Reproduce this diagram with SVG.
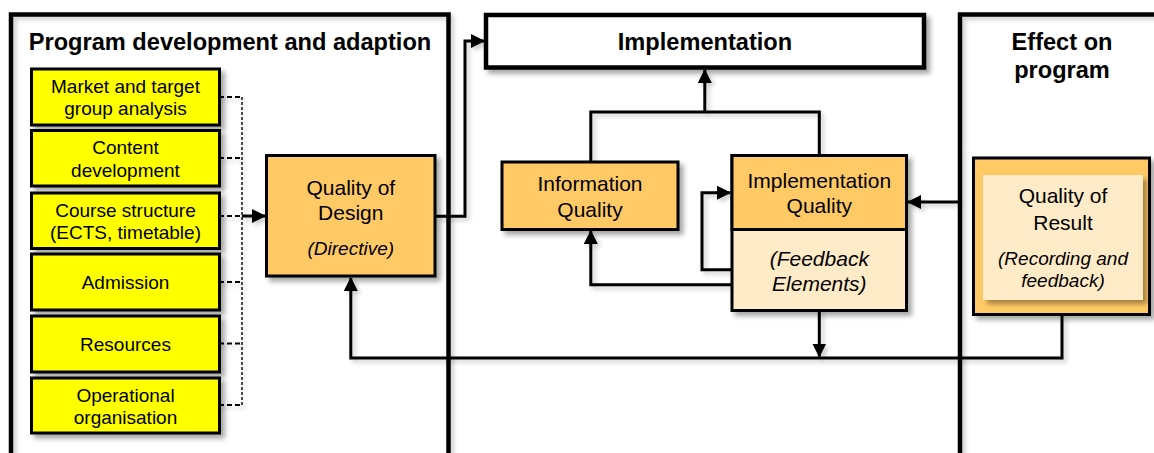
<svg xmlns="http://www.w3.org/2000/svg" width="1154" height="453" viewBox="0 0 1154 453">
<defs>
<style>
text{font-family:"Liberation Sans",Arial,sans-serif;fill:#000;text-anchor:middle}
.h{font-weight:bold;font-size:23.6px}
.t{font-size:21px}
.s{font-size:19px}
.i{font-style:italic}
.frame{fill:none;stroke:#000;stroke-width:4.5}
.yel{fill:#FFFF00;stroke:#000;stroke-width:3}
.org{fill:#FFC966;stroke:#000;stroke-width:3}
.lt{fill:#FFEBC7;stroke:#000;stroke-width:3}
.c{fill:none;stroke:#000;stroke-width:3}
.d{fill:none;stroke:#000;stroke-width:2;stroke-dasharray:5 3}
.dv{fill:none;stroke:#000;stroke-width:1.4;stroke-dasharray:3 2}
</style>
<filter id="sh" x="-10%" y="-10%" width="130%" height="130%">
<feDropShadow dx="4" dy="4" stdDeviation="2.5" flood-color="#000" flood-opacity="0.35"/>
</filter>
<filter id="shl" x="-10%" y="-10%" width="130%" height="130%">
<feDropShadow dx="3" dy="3" stdDeviation="2" flood-color="#000" flood-opacity="0.2"/>
</filter>
<marker id="ar" viewBox="0 0 14 14" refX="13" refY="7" markerWidth="14" markerHeight="14" markerUnits="userSpaceOnUse" orient="auto">
<path d="M0,0 L14,7 L0,14 Z" fill="#000"/>
</marker>
</defs>

<g id="frames" filter="url(#shl)">
<path class="frame" d="M11,460 V14.5 H448.5 V460"/>
<path class="frame" d="M960,460 V14.5 H1160"/>
</g>

<text class="h" x="230" y="50">Program development and adaption</text>
<text class="h" x="1062" y="50">Effect on</text>
<text class="h" x="1062" y="78">program</text>

<g id="connectors" filter="url(#shl)">
<path class="d" d="M219,97 H242 M219,158 H242 M219,216 H242 M219,282 H242 M219,343.5 H242 M219,405 H242"/>
<path class="dv" d="M242,97 V405"/>
<path class="c" d="M242,216 H265" marker-end="url(#ar)"/>
<path class="c" d="M435,216.3 H465 V41 H484" marker-end="url(#ar)"/>
<path class="c" d="M1062,315 V358 H350.8 V278" marker-end="url(#ar)"/>
<path class="c" d="M590.8,162 V112 H819.3 V155.5"/>
<path class="c" d="M704.8,112 V70" marker-end="url(#ar)"/>
<path class="c" d="M732,284.7 H590.8 V231" marker-end="url(#ar)"/>
<path class="c" d="M732,269.7 H702 V192.7 H730" marker-end="url(#ar)"/>
<path class="c" d="M819.3,310.5 V356.5" marker-end="url(#ar)"/>
<path class="c" d="M960,202 H908" marker-end="url(#ar)"/>
</g>

<g id="implementation">
<rect x="486" y="15" width="438" height="52.5" fill="#fff" stroke="#000" stroke-width="4.5" filter="url(#sh)"/>
<text class="h" x="705" y="50">Implementation</text>
</g>

<g id="market">
<rect class="yel" x="31.5" y="69" width="188" height="56" filter="url(#sh)"/>
<text class="s" x="125.5" y="93">Market and target</text>
<text class="s" x="125.5" y="115">group analysis</text>
</g>
<g id="content">
<rect class="yel" x="31.5" y="130.5" width="188" height="55.5" filter="url(#sh)"/>
<text class="s" x="125.5" y="154">Content</text>
<text class="s" x="125.5" y="177">development</text>
</g>
<g id="course">
<rect class="yel" x="31.5" y="193" width="188" height="55.5" filter="url(#sh)"/>
<text class="s" x="125.5" y="216.5">Course structure</text>
<text class="s" x="125.5" y="239">(ECTS, timetable)</text>
</g>
<g id="admission">
<rect class="yel" x="31.5" y="254" width="188" height="56" filter="url(#sh)"/>
<text class="s" x="125.5" y="289">Admission</text>
</g>
<g id="resources">
<rect class="yel" x="31.5" y="316" width="188" height="56" filter="url(#sh)"/>
<text class="s" x="125.5" y="351">Resources</text>
</g>
<g id="operational">
<rect class="yel" x="31.5" y="378" width="188" height="55" filter="url(#sh)"/>
<text class="s" x="125.5" y="402">Operational</text>
<text class="s" x="125.5" y="424">organisation</text>
</g>

<g id="design">
<rect class="org" x="266.5" y="155.5" width="168.5" height="120.5" filter="url(#sh)"/>
<text class="t" x="350.8" y="195">Quality of</text>
<text class="t" x="350.8" y="220">Design</text>
<text class="s i" x="350.8" y="255">(Directive)</text>
</g>

<g id="information">
<rect class="org" x="502" y="162" width="176" height="67.5" filter="url(#sh)"/>
<text class="t" x="590" y="191">Information</text>
<text class="t" x="590" y="217">Quality</text>
</g>

<g id="implquality">
<rect class="lt" x="732" y="155.5" width="174.5" height="155" filter="url(#sh)"/>
<rect class="org" x="732" y="155.5" width="174.5" height="74"/>
<text class="t" x="819.3" y="188">Implementation</text>
<text class="t" x="819.3" y="213">Quality</text>
<text class="t i" x="819.3" y="266">(Feedback</text>
<text class="t i" x="819.3" y="291">Elements)</text>
</g>

<g id="result">
<rect class="org" x="973.5" y="158" width="176" height="156.5" filter="url(#sh)"/>
<rect x="983" y="175" width="160" height="125" fill="#FFEBC7" filter="url(#sh)"/>
<text class="t" x="1063" y="203">Quality of</text>
<text class="t" x="1063" y="230">Result</text>
<text class="s i" x="1063" y="265">(Recording and</text>
<text class="s i" x="1063" y="287">feedback)</text>
</g>
</svg>
